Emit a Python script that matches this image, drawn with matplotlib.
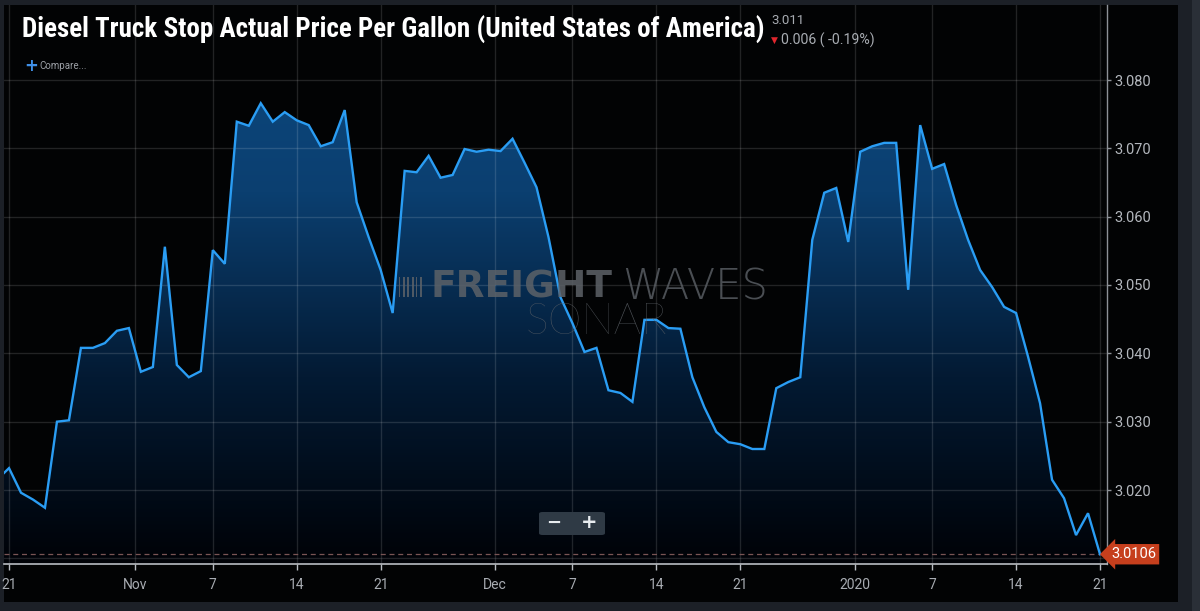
import numpy as np
import pandas as pd
import matplotlib
matplotlib.use("Agg")
import matplotlib.pyplot as plt
from matplotlib import font_manager
from matplotlib.colors import LinearSegmentedColormap
from matplotlib.patches import Rectangle, FancyBboxPatch

# ---------------- data ----------------
first_partial_date = "2019-10-20"
first_partial_value = 3.0215
start_date = "2019-10-21"
end_date = "2020-01-21"
missing_dates = ["2019-12-25"]
prices = [
    3.0232, 3.0196, 3.0186, 3.0174, 3.0300, 3.0302, 3.0408, 3.0408, 3.0415, 3.0433,
    3.0437, 3.0373, 3.0380, 3.0556, 3.0383, 3.0365, 3.0374, 3.0551, 3.0531, 3.0739,
    3.0733, 3.0766, 3.0739, 3.0753, 3.0741, 3.0734, 3.0703, 3.0709, 3.0756, 3.0621,
    3.0570, 3.0522, 3.0459, 3.0667, 3.0665, 3.0689, 3.0657, 3.0661, 3.0699, 3.0695,
    3.0698, 3.0696, 3.0714, 3.0679, 3.0643, 3.0570, 3.0482, 3.0444, 3.0402, 3.0408,
    3.0346, 3.0342, 3.0329, 3.0449, 3.0449, 3.0437, 3.0436, 3.0365, 3.0321, 3.0285,
    3.0270, 3.0267, 3.0260, 3.0260, 3.0349, 3.0358, 3.0365, 3.0566, 3.0635, 3.0642,
    3.0563, 3.0695, 3.0703, 3.0708, 3.0708, 3.0493, 3.0734, 3.0670, 3.0677, 3.0617,
    3.0566, 3.0522, 3.0497, 3.0468, 3.0459, 3.0395, 3.0327, 3.0215, 3.0188, 3.0134,
    3.0166, 3.0106,
]
last_value_label = "3.0106"
title = "Diesel Truck Stop Actual Price Per Gallon (United States of America)"
quote_value = "3.011"
quote_change = "0.006 ( -0.19%)"
x_tick_dates = ["2019-10-21", "2019-11-01", "2019-11-07", "2019-11-14", "2019-11-21",
                "2019-12-01", "2019-12-07", "2019-12-14", "2019-12-21", "2020-01-01",
                "2020-01-07", "2020-01-14", "2020-01-21"]
x_tick_labels = ["21", "Nov", "7", "14", "21", "Dec", "7", "14", "21", "2020", "7", "14", "21"]
y_grid_values = [3.010, 3.020, 3.030, 3.040, 3.050, 3.060, 3.070, 3.080]
y_tick_values = [3.020, 3.030, 3.040, 3.050, 3.060, 3.070, 3.080]
y_tick_labels = ["3.020", "3.030", "3.040", "3.050", "3.060", "3.070", "3.080"]

# ordinal (point-indexed) time axis, as in the original stock-style chart
dates = pd.date_range(start_date, end_date, freq="D")
dates = dates[~dates.isin(pd.to_datetime(missing_dates))]
dates = pd.DatetimeIndex([pd.Timestamp(first_partial_date)]).append(dates)
values = np.array([first_partial_value] + prices)
xpos = np.arange(len(values)) - 1.0          # index 0 == start_date

tick_dt = pd.to_datetime(x_tick_dates)
tick_pos = dates.get_indexer(tick_dt).astype(float) - 1.0
month_start = np.array([d.day == 1 for d in tick_dt])
tick_pos[month_start] -= 0.45                 # month boundaries sit between points

# ---------------- fonts ----------------
avail = {f.name for f in font_manager.fontManager.ttflist}
def pick(cands):
    for c in cands:
        if c in avail:
            return c
    return "DejaVu Sans"
title_font = pick(["Roboto Condensed", "Liberation Sans Narrow", "DejaVu Sans Condensed",
                   "Open Sans Condensed", "Roboto", "DejaVu Sans"])
label_font = pick(["Roboto", "Lato", "DejaVu Sans"])
thin_font = pick(["Lato", "Roboto", "DejaVu Sans"])

W, H = 1200, 611
fig = plt.figure(figsize=(W / 100, H / 100), dpi=100, facecolor="#1c2027")

def fx(px):
    return px / W

def fy(py):
    return 1 - py / H

# black panel (behind the axes)
fig.patches.append(Rectangle((fx(4), fy(602)), fx(1178) - fx(4), fy(5) - fy(602),
                             transform=fig.transFigure, facecolor="#020304",
                             edgecolor="none", zorder=-2))
fig.patches.append(Rectangle((fx(1192), 0), fx(8), 1, transform=fig.transFigure,
                             facecolor="#2a2f37", edgecolor="none", zorder=-2))

ax_left, ax_right, ax_top, ax_bottom = 4, 1107, 5, 564
ax = fig.add_axes([fx(ax_left), fy(ax_bottom), fx(ax_right - ax_left), fy(ax_top) - fy(ax_bottom)])
ax.set_facecolor("none")
ax.set_zorder(1)

ppi = (1100 - 9) / 91.0
xlo = -(9 - ax_left) / ppi
xhi = (ax_right - 9) / ppi
ppu = (490 - 80) / 0.06
ylo = 3.080 - (ax_bottom - 80) / ppu
yhi = 3.080 + (80 - ax_top) / ppu
ax.set_xlim(xlo, xhi)
ax.set_ylim(ylo, yhi)

# gradient fill under line
cmap = LinearSegmentedColormap.from_list("g", ["#000207", "#031a33", "#0b3f70", "#0d4a82"])
grad = np.linspace(0, 1, 256).reshape(-1, 1)
im = ax.imshow(grad, extent=[xlo, xhi, ylo, yhi], origin="lower", aspect="auto",
               cmap=cmap, zorder=1, interpolation="bilinear")
poly = ax.fill_between(xpos, values, ylo, facecolor="none", edgecolor="none")
im.set_clip_path(poly.get_paths()[0], transform=ax.transData)

# grid
for t in tick_pos:
    ax.axvline(t, color="#ffffff", alpha=0.13, lw=1, zorder=2)
for v in y_grid_values:
    ax.axhline(v, color="#ffffff", alpha=0.13, lw=1, zorder=2)

# line
ax.plot(xpos, values, color="#2a9df4", lw=1.7, zorder=4, solid_joinstyle="miter")

# last-value dashed line
ax.axhline(values[-1], color="#7a5555", lw=0.9, ls=(0, (4, 3)), zorder=3)

# axes styling
for s in ["left", "top"]:
    ax.spines[s].set_visible(False)
ax.spines["bottom"].set_color("#b8bcc2")
ax.spines["right"].set_color("#8d9197")
ax.spines["bottom"].set_linewidth(1.2)
ax.spines["right"].set_linewidth(1.0)
ax.yaxis.tick_right()
ax.set_yticks(y_tick_values)
ax.set_yticklabels(y_tick_labels)
ax.set_xticks(tick_pos)
ax.set_xticklabels(x_tick_labels)
ax.tick_params(axis="y", colors="#8d9197", labelcolor="#b4b8be", length=3, width=1,
               pad=2, labelsize=10.5)
ax.tick_params(axis="x", colors="#b8bcc2", labelcolor="#a8acb2", length=4, width=1,
               pad=6, labelsize=10)
for lab in ax.get_xticklabels() + ax.get_yticklabels():
    lab.set_fontfamily(label_font)

# last value label
ax.text(1.0 + 4 / (ax_right - ax_left), values[-1], last_value_label,
        transform=ax.get_yaxis_transform(), ha="left", va="center", color="white",
        fontsize=10.5, family=label_font, zorder=6, clip_on=False,
        bbox=dict(boxstyle="larrow,pad=0.22", fc="#c63f1d", ec="none"))

# watermark
wm_col = "#5d6268"
fig.text(fx(430), fy(287), "FREIGHT", color=wm_col, fontsize=27, fontweight="bold",
         family="DejaVu Sans", ha="left", va="center", alpha=0.85, zorder=5)
fig.text(fx(622), fy(287), "WAVES", color=wm_col, fontsize=30, fontweight="light",
         family="DejaVu Sans", ha="left", va="center", alpha=0.8, zorder=5)
fig.text(fx(596), fy(322), "SONAR", color=wm_col, fontsize=31, fontweight="light",
         family=thin_font, ha="center", va="center", alpha=0.85, zorder=5)
for i in range(6):
    w = 1.2 if i % 2 == 0 else 2.2
    fig.patches.append(Rectangle((fx(399 + i * 4.2), fy(297)), fx(w), fy(277) - fy(297),
                                 transform=fig.transFigure, facecolor=wm_col,
                                 edgecolor="none", alpha=0.85, zorder=5))

# zoom buttons
fig.patches.append(FancyBboxPatch((fx(539), fy(535)), fx(66), fy(512) - fy(535),
                                  boxstyle="round,pad=0,rounding_size=0.003",
                                  transform=fig.transFigure, facecolor="#2f3a45",
                                  edgecolor="none", zorder=6))
fig.text(fx(554), fy(523), "\u2212", color="#e8ecf0", fontsize=13, fontweight="bold",
         ha="center", va="center", zorder=7)
fig.text(fx(589), fy(523), "+", color="#e8ecf0", fontsize=14, fontweight="bold",
         ha="center", va="center", zorder=7)

# title
tt = fig.text(fx(22), fy(30), title, color="white", fontsize=20, fontweight="bold",
              family=title_font, ha="left", va="center", zorder=7)
fig.canvas.draw()
r = fig.canvas.get_renderer()
bb = tt.get_window_extent(r)
tt.set_fontsize(20 * 740 / bb.width)

# quote
fig.text(fx(771), fy(20), quote_value, color="#a8acb2", fontsize=9.5, family=label_font,
         ha="left", va="center", zorder=7)
fig.text(fx(771), fy(40), "\u25bc", color="#e0262d", fontsize=6.5, family="DejaVu Sans",
         ha="left", va="center", zorder=7)
fig.text(fx(781), fy(40), quote_change, color="#a8acb2", fontsize=10.2, family=label_font,
         ha="left", va="center", zorder=7)

# compare
fig.text(fx(24), fy(66), "+", color="#3f8fe6", fontsize=12, fontweight="bold",
         ha="left", va="center", zorder=7)
fig.text(fx(39), fy(66), "Compare...", color="#9ca0a6", fontsize=7, family=label_font,
         ha="left", va="center", zorder=7)

fig.savefig("out.png", dpi=100, facecolor=fig.get_facecolor())
